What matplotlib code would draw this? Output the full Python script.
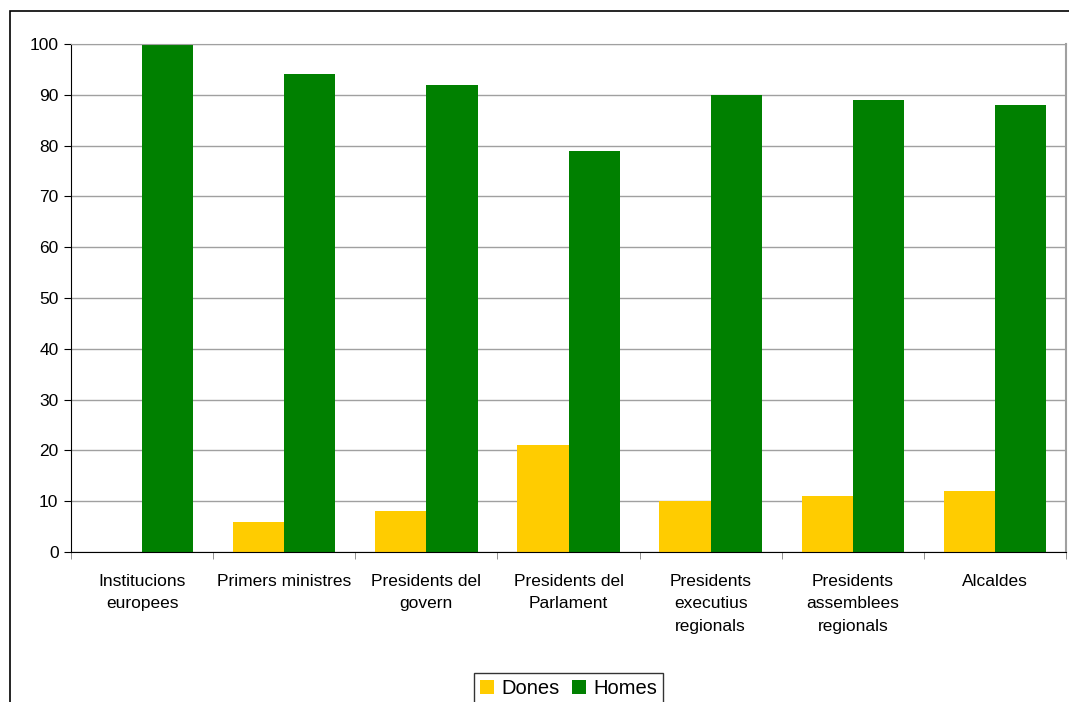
import numpy as np
import matplotlib.pyplot as plt
from matplotlib.patches import Rectangle

#-----Data-----#
Categories = ["Institucions\neuropees", "Primers ministres", "Presidents del\ngovern",
              "Presidents del\nParlament", "Presidents\nexecutius\nregionals",
              "Presidents\nassemblees\nregionals", "Alcaldes"]
Dones = [0, 6, 8, 21, 10, 11, 12]
Homes = [100, 94, 92, 79, 90, 89, 88]

plt.rcParams['font.family'] = ['Liberation Sans', 'DejaVu Sans']

#-----Figure-----#
Fig = plt.figure(figsize=(10.69, 7.02), dpi=100)
Ax = Fig.add_axes([71/1069, 1-552/702, (1066-71)/1069, (552-44)/702])

x = np.arange(len(Categories))
BarWidth = 0.36
Ax.bar(x - BarWidth/2, Dones, width=BarWidth, color="#FFCC00", label="Dones", zorder=2)
Ax.bar(x + BarWidth/2, Homes, width=BarWidth, color="#008000", label="Homes", zorder=2)

Ax.set_xlim(-0.5, len(Categories) - 0.5)
Ax.set_ylim(0, 100)
Ax.set_yticks(np.arange(0, 101, 10))
Ax.yaxis.grid(True, color="#a0a0a0", linewidth=1, zorder=0)
Ax.set_axisbelow(True)

# category labels centred, ticks on the boundaries
Ax.set_xticks(x)
Ax.set_xticklabels(Categories, fontsize=12.5, linespacing=1.6, va="top")
Ax.tick_params(axis="x", which="major", length=0, pad=16)
Ax.set_xticks(np.arange(-0.5, len(Categories), 1), minor=True)
Ax.tick_params(axis="x", which="minor", length=5, color="#808080")
Ax.tick_params(axis="y", length=5, labelsize=12.5, pad=4)

Ax.spines["top"].set_color("#a0a0a0")
Ax.spines["right"].set_color("#a0a0a0")
Ax.spines["right"].set_linewidth(1.5)
Ax.spines["left"].set_color("black")
Ax.spines["bottom"].set_color("black")

Leg = Ax.legend(loc="upper center", bbox_to_anchor=(0.5, (552-663)/508), ncol=2,
                fontsize=14.5, frameon=True, fancybox=False, edgecolor="black",
                handlelength=0.7, handleheight=0.7, handletextpad=0.35,
                columnspacing=0.6, borderpad=0.3)
Leg.get_frame().set_linewidth(1)

# outer chart border (cut by the image edge on the right and bottom)
Fig.patches.append(Rectangle((10/1069, -0.05), 1.1, 1.05 - 11/702,
                             transform=Fig.transFigure, fill=False,
                             edgecolor="black", linewidth=1.2))

Fig.savefig("out.png", dpi=100)
